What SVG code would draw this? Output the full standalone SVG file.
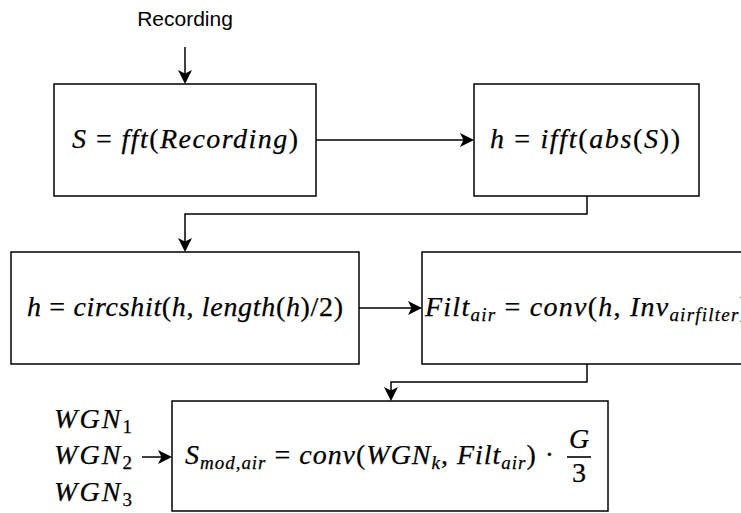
<svg xmlns="http://www.w3.org/2000/svg" width="741" height="513" viewBox="0 0 741 513">
  <style>
    .box { fill: #ffffff; stroke: #000000; stroke-width: 1.5; }
    .wire { fill: none; stroke: #000000; stroke-width: 1.5; }
    .lbl { font-family: "Liberation Sans", Arial, sans-serif; font-size: 21px; fill: #000000; }
    .m { font-family: 'Liberation Serif', 'Times New Roman', Times, serif; font-size: 28px; fill: #000000; stroke: #000000; stroke-width: 0.25; font-variant-ligatures: none; }
    .i { font-style: italic; }
    .s { font-size: 19px; }
  </style>
  <defs>
    <!-- classic arrowhead; tip sits 10px past the end of the path -->
    <marker id="arrow" viewBox="-5 -8 16 16" markerWidth="16" markerHeight="16" refX="0" refY="0" orient="auto" markerUnits="userSpaceOnUse">
      <path d="M10,0 L-4,-7 L-0.5,0 L-4,7 Z" fill="#000000"/>
    </marker>
  </defs>

  <!-- input label -->
  <g id="input-recording">
    <text class="lbl" x="185" y="26" text-anchor="middle">Recording</text>
  </g>

  <g id="node-fft">
    <rect class="box" x="54" y="84" width="262" height="112"/>
    <text class="m" x="72" y="148" textLength="226" lengthAdjust="spacing"><tspan class="i">S</tspan> = <tspan class="i">fft</tspan>(<tspan class="i">Recording</tspan>)</text>
  </g>

  <g id="node-ifft">
    <rect class="box" x="474" y="84" width="225" height="112"/>
    <text class="m" x="490" y="148" textLength="190" lengthAdjust="spacing"><tspan class="i">h</tspan> = <tspan class="i">ifft</tspan>(<tspan class="i">abs</tspan>(<tspan class="i">S</tspan>))</text>
  </g>

  <g id="node-circshift">
    <rect class="box" x="11" y="252" width="348" height="112"/>
    <text class="m" x="27" y="316" textLength="316" lengthAdjust="spacing"><tspan class="i">h</tspan> = <tspan class="i">circshit</tspan>(<tspan class="i">h</tspan>, <tspan class="i">length</tspan>(<tspan class="i">h</tspan>)/2)</text>
  </g>

  <g id="node-filter">
    <rect class="box" x="422" y="252" width="330" height="112"/>
    <text class="m" x="425" y="316" textLength="324" lengthAdjust="spacing"><tspan class="i">Filt</tspan><tspan class="i s" dy="5">air</tspan><tspan dy="-5"> = </tspan><tspan class="i">conv</tspan>(<tspan class="i">h</tspan>, <tspan class="i">Inv</tspan><tspan class="i s" dy="5">airfilter</tspan><tspan dy="-5">)</tspan></text>
  </g>

  <!-- noise inputs -->
  <g id="input-wgn">
    <text class="m" x="54" y="428" textLength="78" lengthAdjust="spacing"><tspan class="i">WGN</tspan><tspan class="s" dy="5">1</tspan></text>
    <text class="m" x="54" y="464" textLength="78" lengthAdjust="spacing"><tspan class="i">WGN</tspan><tspan class="s" dy="5">2</tspan></text>
    <text class="m" x="54" y="501" textLength="78" lengthAdjust="spacing"><tspan class="i">WGN</tspan><tspan class="s" dy="5">3</tspan></text>
  </g>

  <g id="node-modulate">
    <rect class="box" x="172" y="401" width="436" height="110"/>
    <text class="m" x="185" y="464" textLength="369" lengthAdjust="spacing"><tspan class="i">S</tspan><tspan class="i s" dy="5">mod</tspan><tspan class="s">,</tspan><tspan class="i s">air</tspan><tspan dy="-5"> = </tspan><tspan class="i">conv</tspan>(<tspan class="i">WGN</tspan><tspan class="i s" dy="5">k</tspan><tspan dy="-5">, </tspan><tspan class="i">Filt</tspan><tspan class="i s" dy="5">air</tspan><tspan dy="-5">) ·</tspan></text>
    <text class="m i" x="579" y="448" text-anchor="middle">G</text>
    <line x1="567" y1="457" x2="591" y2="457" stroke="#000000" stroke-width="1.6"/>
    <text class="m" x="579" y="482" text-anchor="middle">3</text>
  </g>

  <g id="connectors">
    <path class="wire" d="M185,47 V74" marker-end="url(#arrow)"/>
    <path class="wire" d="M316,140 H464" marker-end="url(#arrow)"/>
    <path class="wire" d="M587,196 V214 H185 V242" marker-end="url(#arrow)"/>
    <path class="wire" d="M359,308 H412" marker-end="url(#arrow)"/>
    <path class="wire" d="M587,364 V382 H391 V391" marker-end="url(#arrow)"/>
    <path class="wire" d="M142,457 H162" marker-end="url(#arrow)"/>
  </g>
</svg>
